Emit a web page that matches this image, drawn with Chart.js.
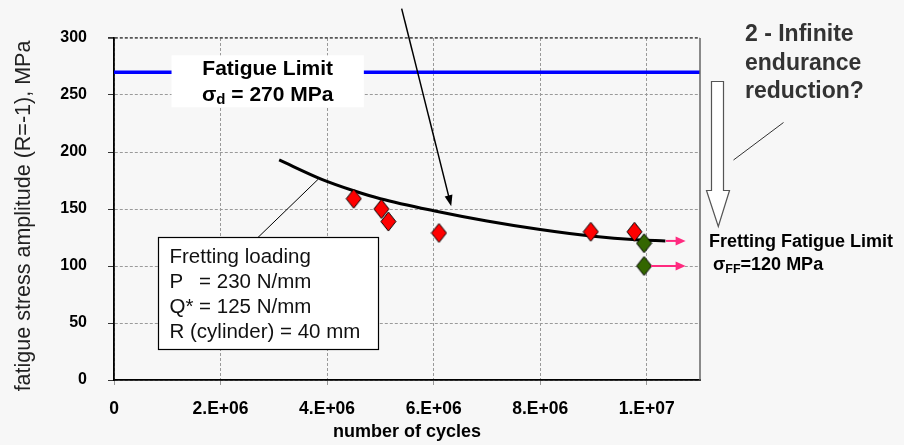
<!DOCTYPE html>
<html>
<head>
<meta charset="utf-8">
<script src="https://cdn.jsdelivr.net/npm/chart.js@4.4.1/dist/chart.umd.min.js"></script>
<style>
  html, body { margin: 0; padding: 0; background: #f7f7f7; }
  #wrap { width: 904px; height: 445px; position: relative; }
</style>
</head>
<body>
<div id="wrap"><canvas id="c" width="904" height="445"></canvas></div>
<script>
// ---- data ----
const xTickValues = [0, 2e6, 4e6, 6e6, 8e6, 1e7];
const xTickLabels = ['0', '2.E+06', '4.E+06', '6.E+06', '8.E+06', '1.E+07'];
const yTickValues = [0, 50, 100, 150, 200, 250, 300];

// plain fatigue limit
const limitCycles = [0, 1.1e7];
const limitStress = [270, 270];

// fretting fatigue trend curve
const curveCycles = [3.1e6, 3.9e6, 4.5e6, 5.0e6, 6.0e6, 7.0e6, 8.0e6, 9.0e6, 9.8e6, 10.35e6];
const curveStress = [193, 176, 166, 159, 148.5, 139.5, 132, 126, 123, 122];

// failed specimens
const failCycles = [4.5e6, 5.02e6, 5.15e6, 6.1e6, 8.95e6, 9.77e6];
const failStress = [159, 150, 139, 129, 130, 130];

// run-outs
const runoutCycles = [9.95e6, 9.95e6];
const runoutStress = [120, 100];

// run-out arrows
const runArrowFrom = [10.36e6, 10.08e6];
const runArrowTo = [10.73e6, 10.73e6];
const runArrowStress = [122, 100];

const pts = (xs, ys) => xs.map((v, i) => ({ x: v, y: ys[i] }));
const FONT = '"Liberation Sans", Arial, sans-serif';

// diamond marker drawn once on an offscreen canvas
function diamond(fill) {
  const w = 17, h = 21;
  const c = document.createElement('canvas');
  c.width = w; c.height = h;
  const g = c.getContext('2d');
  g.beginPath();
  g.moveTo(w / 2, 1); g.lineTo(w - 1, h / 2); g.lineTo(w / 2, h - 1); g.lineTo(1, h / 2);
  g.closePath();
  g.fillStyle = fill; g.fill();
  g.lineWidth = 1; g.strokeStyle = '#000'; g.stroke();
  return c;
}

function arrowHead(ctx, x0, y0, x1, y1, len, half, color) {
  const a = Math.atan2(y1 - y0, x1 - x0);
  ctx.save();
  ctx.translate(x1, y1); ctx.rotate(a);
  ctx.beginPath();
  ctx.moveTo(0, 0); ctx.lineTo(-len, -half); ctx.lineTo(-len, half); ctx.closePath();
  ctx.fillStyle = color; ctx.fill();
  ctx.restore();
}

const annotate = {
  id: 'annotate',
  afterDatasetsDraw(chart) {
    const { ctx, chartArea: a, scales: { x, y } } = chart;
    const px = v => x.getPixelForValue(v);
    const py = v => y.getPixelForValue(v);
    ctx.save();

    // right frame of the plot
    ctx.strokeStyle = '#666'; ctx.lineWidth = 1.5;
    ctx.beginPath(); ctx.moveTo(a.right, a.top); ctx.lineTo(a.right, a.bottom); ctx.stroke();

    // run-out arrows
    const pink = '#ff2a7f';
    runArrowStress.forEach((s, i) => {
      const x0 = px(runArrowFrom[i]), x1 = px(runArrowTo[i]), yy = py(s);
      ctx.strokeStyle = pink; ctx.lineWidth = 2;
      ctx.beginPath(); ctx.moveTo(x0, yy); ctx.lineTo(x1 - 8, yy); ctx.stroke();
      arrowHead(ctx, x0, yy, x1, yy, 10, 4.5, pink);
    });

    // "Fatigue Limit" label box
    const fx0 = px(1.08e6), fx1 = px(4.69e6), fy0 = py(284.8), fy1 = py(239.2);
    ctx.fillStyle = '#fff';
    ctx.fillRect(fx0, fy0, fx1 - fx0, fy1 - fy0);
    const fcx = (fx0 + fx1) / 2;
    ctx.fillStyle = '#000';
    ctx.textBaseline = 'middle';
    ctx.textAlign = 'center';
    ctx.font = 'bold 21px ' + FONT;
    ctx.fillText('Fatigue Limit', fcx, fy0 + 14);
    // σd = 270 MPa
    ctx.textAlign = 'left';
    const big = 'bold 21px ' + FONT;
    const sub = 'bold 15px ' + FONT;
    ctx.font = big; const wS = ctx.measureText('σ').width; const wR = ctx.measureText(' = 270 MPa').width;
    ctx.font = sub; const wD = ctx.measureText('d').width;
    let sx = fcx - (wS + wD + wR) / 2; const sy = fy0 + 40;
    ctx.font = big; ctx.fillText('σ', sx, sy); sx += wS;
    ctx.font = sub; ctx.fillText('d', sx, sy + 5); sx += wD;
    ctx.font = big; ctx.fillText(' = 270 MPa', sx, sy);

    // pointer to the trend curve from above
    const tx0 = px(5.40e6), ty0 = py(325.8), tx1 = px(6.33e6), ty1 = py(152.4);
    ctx.strokeStyle = '#000'; ctx.lineWidth = 1.5;
    ctx.beginPath(); ctx.moveTo(tx0, ty0); ctx.lineTo(tx1 - (tx1 - tx0) * 0.04, ty1 - (ty1 - ty0) * 0.04); ctx.stroke();
    arrowHead(ctx, tx0, ty0, tx1, ty1, 11, 4, '#000');

    // fretting loading box + leader
    ctx.strokeStyle = '#000'; ctx.lineWidth = 1;
    ctx.beginPath(); ctx.moveTo(px(2.68e6), py(124)); ctx.lineTo(px(3.83e6), py(176)); ctx.stroke();
    const bx0 = Math.round(px(0.83e6)) + 0.5, bx1 = Math.round(px(4.95e6)) + 0.5;
    const by0 = Math.round(py(125)) + 0.5, by1 = Math.round(py(26.8)) + 0.5;
    ctx.fillStyle = '#fff';
    ctx.fillRect(bx0, by0, bx1 - bx0, by1 - by0);
    ctx.lineWidth = 1.2;
    ctx.strokeRect(bx0, by0, bx1 - bx0, by1 - by0);
    ctx.fillStyle = '#111';
    ctx.font = '20.5px ' + FONT;
    ctx.textAlign = 'left';
    const lx = bx0 + 11;
    const eqX = lx + ctx.measureText('Q* ').width;
    ctx.fillText('Fretting loading', lx, by0 + 20);
    ctx.fillText('P', lx, by0 + 44.5);
    ctx.fillText('= 230 N/mm', eqX, by0 + 44.5);
    ctx.fillText('Q* = 125 N/mm', lx, by0 + 69.5);
    ctx.fillText('R (cylinder) = 40 mm', lx, by0 + 94.5);

    ctx.restore();
  },
  afterDraw(chart) {
    const { ctx } = chart;
    ctx.save();

    // y axis title
    ctx.save();
    ctx.translate(24, 216);
    ctx.rotate(-Math.PI / 2);
    ctx.fillStyle = '#222';
    ctx.textAlign = 'center';
    ctx.textBaseline = 'middle';
    ctx.font = '21.5px ' + FONT;
    ctx.fillText('fatigue stress amplitude (R=-1), MPa', 0, 0);
    ctx.restore();

    // question about the infinite endurance
    ctx.fillStyle = '#333';
    ctx.textAlign = 'left';
    ctx.textBaseline = 'middle';
    ctx.font = 'bold 23px ' + FONT;
    ctx.fillText('2 - Infinite', 745, 35);
    ctx.fillText('endurance', 745, 63.5);
    ctx.fillText('reduction?', 745, 92);
    ctx.strokeStyle = '#333'; ctx.lineWidth = 1;
    ctx.beginPath(); ctx.moveTo(783.5, 122.5); ctx.lineTo(733.5, 160); ctx.stroke();

    // hollow downward arrow
    ctx.beginPath();
    ctx.moveTo(711.5, 81.5); ctx.lineTo(723.5, 81.5); ctx.lineTo(723.5, 190.5);
    ctx.lineTo(729.5, 190.5); ctx.lineTo(718.3, 226.5); ctx.lineTo(706.5, 190.5);
    ctx.lineTo(711.5, 190.5); ctx.closePath();
    ctx.fillStyle = '#fff'; ctx.fill();
    ctx.strokeStyle = '#555'; ctx.lineWidth = 1.2; ctx.stroke();

    // fretting fatigue limit label
    ctx.fillStyle = '#000';
    ctx.font = 'bold 18px ' + FONT;
    ctx.fillText('Fretting Fatigue Limit', 709, 242);
    let sx = 713;
    ctx.fillText('σ', sx, 265); sx += ctx.measureText('σ').width;
    ctx.font = 'bold 12.5px ' + FONT;
    ctx.fillText('FF', sx, 270); sx += ctx.measureText('FF').width;
    ctx.font = 'bold 18px ' + FONT;
    ctx.fillText('=120 MPa', sx, 265);
    ctx.restore();
  }
};

const bg = {
  id: 'bg',
  beforeDraw(chart) {
    const { ctx, width, height } = chart;
    ctx.save(); ctx.fillStyle = '#f7f7f7'; ctx.fillRect(0, 0, width, height); ctx.restore();
  }
};

new Chart(document.getElementById('c'), {
  type: 'scatter',
  data: {
    datasets: [
      { data: pts(limitCycles, limitStress), showLine: true, borderColor: '#0000ff', borderWidth: 3.5, pointRadius: 0, order: 4 },
      { data: pts(curveCycles, curveStress), showLine: true, borderColor: '#000', borderWidth: 3, pointRadius: 0, cubicInterpolationMode: 'monotone', order: 3 },
      { data: pts(failCycles, failStress), pointStyle: diamond('#ff0000'), pointRadius: 9, order: 2 },
      { data: pts(runoutCycles, runoutStress), pointStyle: diamond('#336600'), pointRadius: 9, order: 1 }
    ]
  },
  options: {
    responsive: false,
    animation: false,
    events: [],
    layout: { padding: { left: 0, right: 204, top: 38, bottom: 0 } },
    plugins: { legend: { display: false }, tooltip: { enabled: false } },
    scales: {
      x: {
        type: 'linear', min: 0, max: 1.1e7,
        afterFit: s => { s.height = 65; },
        afterBuildTicks: s => { s.ticks = xTickValues.map(v => ({ value: v })); },
        ticks: {
          padding: 14, color: '#000', autoSkip: false,
          font: { family: FONT, weight: 'bold', size: 17.5 }, maxRotation: 0,
          callback: v => { const i = xTickValues.indexOf(v); return i >= 0 ? xTickLabels[i] : ''; }
        },
        grid: { color: '#9a9a9a', lineWidth: 1, tickLength: 5, tickColor: '#999' },
        border: { color: '#000', width: 1.8, dash: [3, 2] },
        title: { display: true, text: 'number of cycles', color: '#000', padding: { top: 0, bottom: 2 },
                 font: { family: FONT, weight: 'bold', size: 18 } }
      },
      y: {
        min: 0, max: 300,
        afterFit: s => { s.width = 114; },
        afterBuildTicks: s => { s.ticks = yTickValues.map(v => ({ value: v })); },
        ticks: { padding: 21, color: '#000', font: { family: FONT, weight: 'bold', size: 16 } },
        grid: {
          color: c => c.tick && c.tick.value === 300 ? '#555' : '#9a9a9a',
          lineWidth: c => c.tick && c.tick.value === 300 ? 1.8 : 1,
          tickLength: 6, tickColor: '#333'
        },
        border: { color: '#000', width: 1.8, dash: [3, 2] }
      }
    }
  },
  plugins: [bg, annotate]
});
</script>
</body>
</html>
